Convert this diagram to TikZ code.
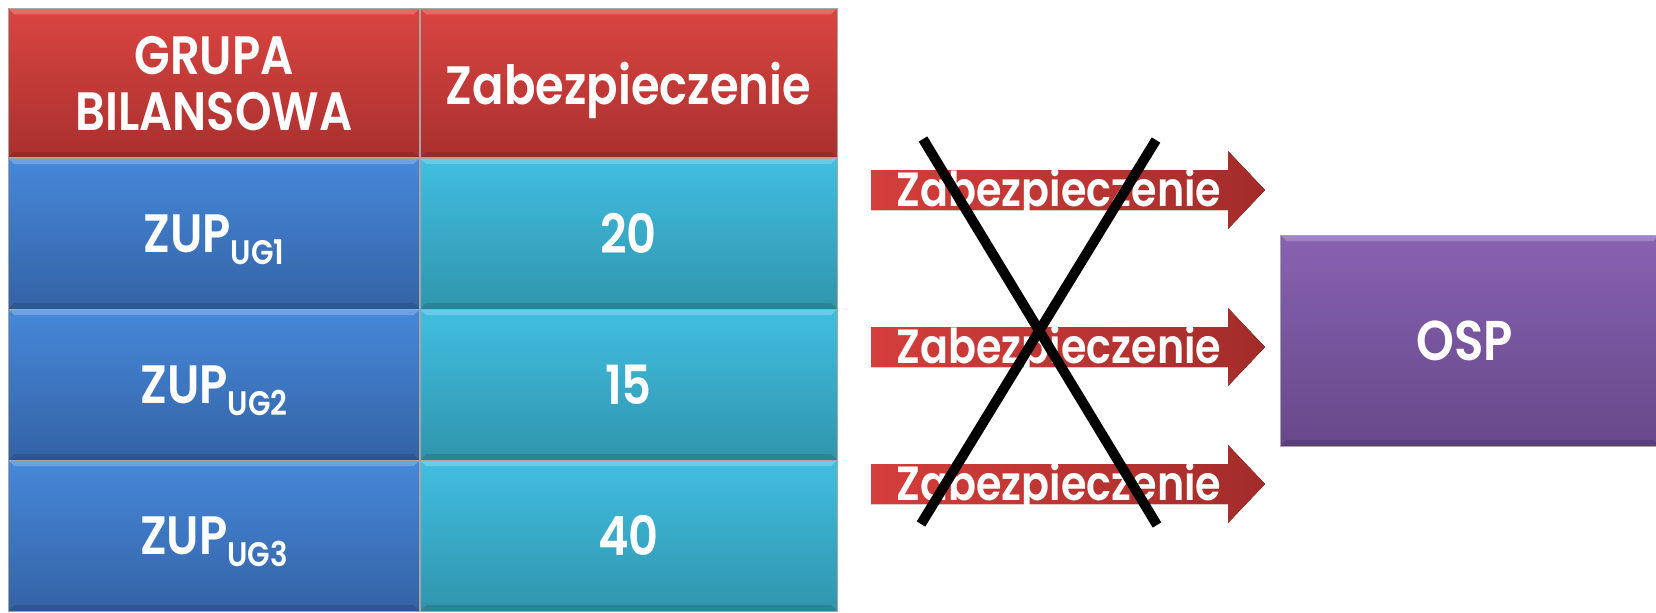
\documentclass[tikz,border=0pt]{standalone}
\usepackage{fontspec}
\setmainfont{Poppins}[FakeStretch=0.86, BoldFont={* SemiBold}]

\definecolor{hdrTop}{HTML}{DA4541}
\definecolor{hdrBot}{HTML}{A9302E}
\definecolor{grpTop}{HTML}{4688D9}
\definecolor{grpBot}{HTML}{3463A5}
\definecolor{valTop}{HTML}{41BEE2}
\definecolor{valBot}{HTML}{3095AC}
\definecolor{arrL}{HTML}{D43E3B}
\definecolor{arrR}{HTML}{A22C2A}
\definecolor{ospTop}{HTML}{8762B2}
\definecolor{ospBot}{HTML}{684889}

\tikzset{
  bevel/.style={path picture={
    \fill[white,opacity=.22] (path picture bounding box.north west) -- (path picture bounding box.north east)
      -- ([xshift=-3pt,yshift=-3pt]path picture bounding box.north east) -- ([xshift=3pt,yshift=-3pt]path picture bounding box.north west) -- cycle;
    \fill[black,opacity=.12] (path picture bounding box.south west) -- (path picture bounding box.south east)
      -- ([xshift=-3pt,yshift=3pt]path picture bounding box.south east) -- ([xshift=3pt,yshift=3pt]path picture bounding box.south west) -- cycle;}},
  cell/.style={bevel, draw=black!35, line width=0.4pt, inner sep=0pt, text=white, text depth=0pt,
    font=\fontsize{27}{28}\selectfont\bfseries, align=center},
  hdr/.style={cell, top color=hdrTop, bottom color=hdrBot, minimum height=74.75pt},
  grp/.style={cell, top color=grpTop, bottom color=grpBot, minimum width=205.75pt, minimum height=75.5pt},
  val/.style={cell, top color=valTop, bottom color=valBot, minimum width=208.5pt, minimum height=75.5pt},
  zarrow/.style={left color=arrL, right color=arrR},
  arrtext/.style={text=white, font=\fontsize{24}{26}\selectfont\bfseries, inner sep=0pt, anchor=base},
  cross/.style={line width=5pt, black},
}
\newcommand{\zup}[1]{ZUP\raisebox{-6pt}{\fontsize{17}{17}\selectfont UG#1}}

\begin{document}
\begin{tikzpicture}[x=0.5pt, y=-0.5pt]
\clip (0,0) rectangle (1656,612);
\useasboundingbox (0,0) rectangle (1656,612);
% table header
\node[hdr, minimum width=205.75pt] (hgrp) at (214,83) {GRUPA\\BILANSOWA};
\node[hdr, minimum width=208.5pt] (hval) at (628.5,83) {Zabezpieczenie};
% table rows
\foreach \i/\y/\v in {1/233.5/20, 2/384.5/15, 3/535.5/40} {
  \node[grp] (g\i) at (214,\y) {\zup{\i}};
  \node[val] (v\i) at (628.5,\y) {\v};
}
% crossed out arrows
\foreach \i/\y in {1/190, 2/347, 3/484} {
  \coordinate (a\i) at (871,\y);
  \fill[zarrow] (a\i) ++(0,-20) -- ++(357,0) -- ++(0,-19) -- ++(37,39)
    -- ++(-37,39) -- ++(0,-19) -- ++(-357,0) -- cycle;
  \node[arrtext] (t\i) at (1059,\y+16) {Zabezpieczenie};
}
% OSP box
\node[cell, top color=ospTop, bottom color=ospBot, minimum width=189.5pt, minimum height=105.5pt] (osp) at (1470,340.5) {};
\node[text=white, font=\fontsize{28}{30}\selectfont\bfseries, inner sep=0pt] (osplab) at (1465,340.5) {OSP};
% the cross
\coordinate (c1a) at (923,139);
\coordinate (c1b) at (1157,525);
\coordinate (c2a) at (1156,140);
\coordinate (c2b) at (921,524);
\draw[cross] (c1a) -- (c1b);
\draw[cross] (c2a) -- (c2b);
\end{tikzpicture}
\end{document}
